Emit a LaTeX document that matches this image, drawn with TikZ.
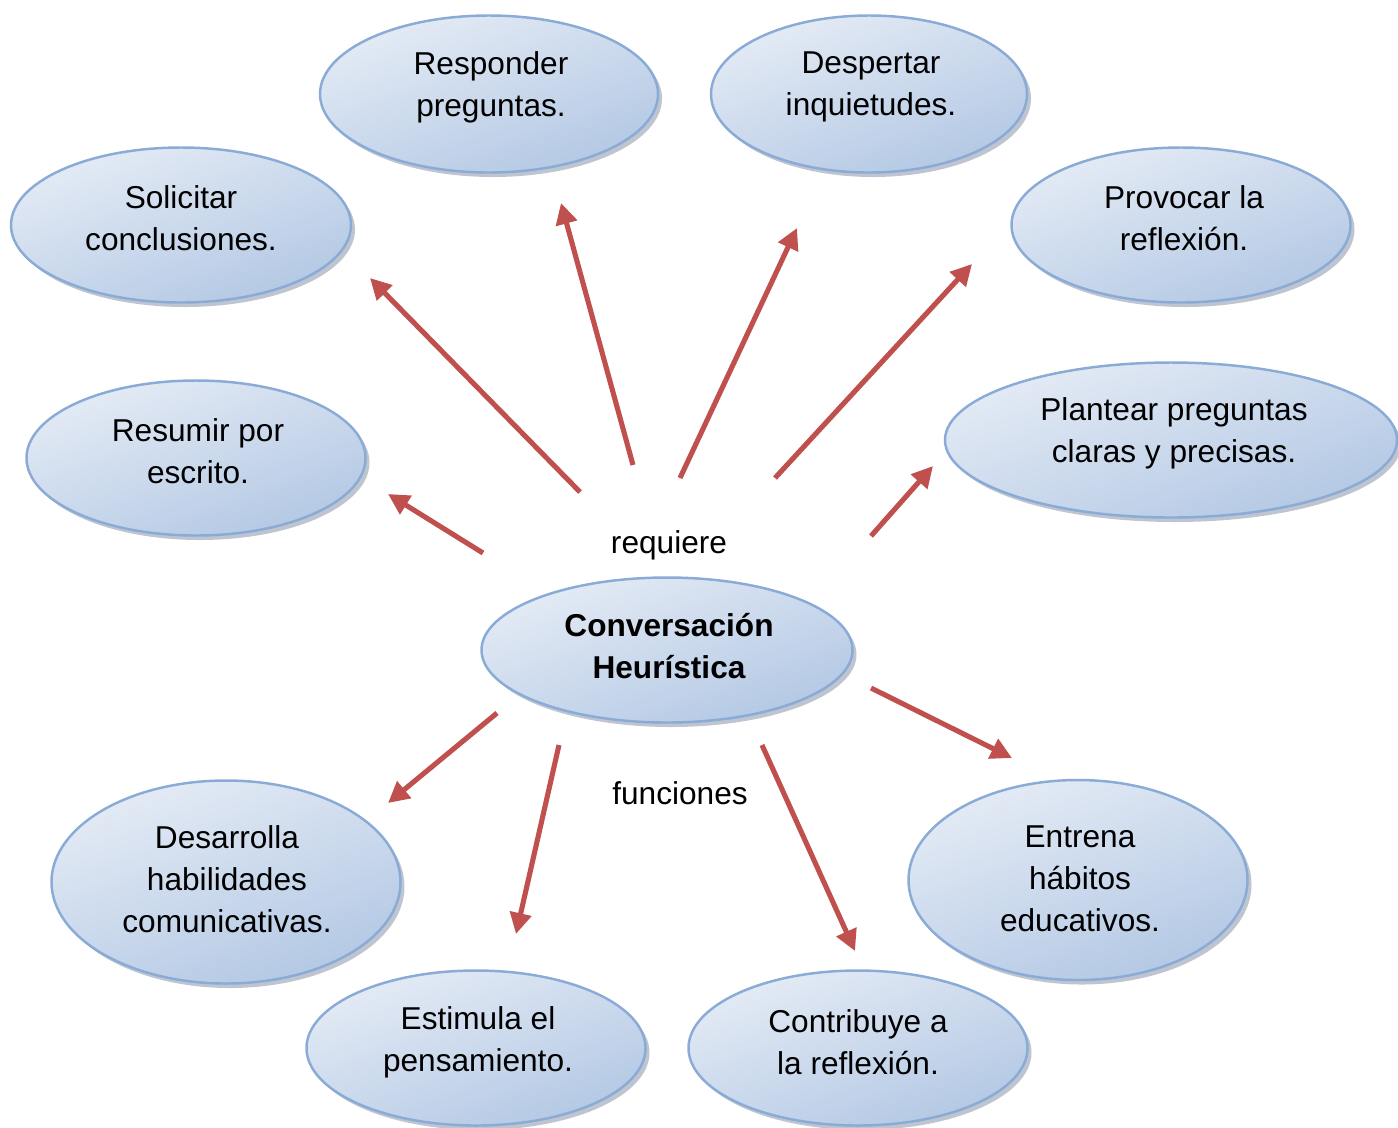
\documentclass[tikz,border=0pt]{standalone}
\usepackage{fontspec}
\setmainfont{Liberation Sans}
\usetikzlibrary{shapes.geometric,arrows.meta,shadows}
\definecolor{arrowred}{HTML}{C0504D}
\definecolor{bubline}{HTML}{8AABD6}
\definecolor{bubtop}{HTML}{E4EBF5}
\definecolor{bubbot}{HTML}{B3C8E4}
\definecolor{bubshadow}{HTML}{6F7F96}
\begin{document}
\begin{tikzpicture}[x=0.02cm,y=-0.02cm,
  bub/.style 2 args={ellipse, draw=bubline, line width=1.4pt,
     top color=bubtop, bottom color=bubbot, shading angle=20,
     minimum width={#1*0.02cm}, minimum height={#2*0.02cm}, inner sep=0pt,
     drop shadow={shadow xshift=0.08cm, shadow yshift=-0.09cm, fill=bubshadow, opacity=0.45}},
  txt/.style={align=center, font=\fontsize{18}{24}\selectfont, inner sep=0pt},
  arr/.style={draw=arrowred, line width=2.9pt, -{Triangle[length=12pt,width=12pt]}},
  lbl/.style={font=\fontsize{18}{24}\selectfont, inner sep=0pt}]
\useasboundingbox (0,0) rectangle (1398,1127);
\begin{scope}
\clip (0,0) rectangle (1398,1127);
% ellipses
\node[bub={338}{157}] (resp) at (489,94) {};
\node[bub={316}{157}] (desp) at (869,94) {};
\node[bub={340}{155}] (soli) at (181,225) {};
\node[bub={339}{155}] (prov) at (1181,225) {};
\node[bub={339}{155}] (resu) at (196,458) {};
\node[bub={452}{155}] (plan) at (1171,440) {};
\node[bub={371}{145}] (conv) at (667,650) {};
\node[bub={349}{203}] (desa) at (226,882) {};
\node[bub={339}{200}] (entr) at (1078,880) {};
\node[bub={339}{155}] (esti) at (476,1048) {};
\node[bub={339}{155}] (cont) at (858,1048) {};
\end{scope}
% texts
\node[txt] (resp-t) at (491,87) {Responder\\preguntas.};
\node[txt] (desp-t) at (871,87) {Despertar\\inquietudes.};
\node[txt] (soli-t) at (181,218) {Solicitar\\conclusiones.};
\node[txt] (prov-t) at (1184,218) {Provocar la\\reflexión.};
\node[txt] (resu-t) at (198,451) {Resumir por\\escrito.};
\node[txt] (plan-t) at (1174,433) {Plantear preguntas\\claras y precisas.};
\node[txt, font=\fontsize{18}{24}\selectfont\bfseries] (conv-t) at (669,646) {Conversación\\Heurística};
\node[txt] (desa-t) at (227,879) {Desarrolla\\habilidades\\comunicativas.};
\node[txt] (entr-t) at (1080,879) {Entrena\\hábitos\\educativos.};
\node[txt] (esti-t) at (478,1042) {Estimula el\\pensamiento.};
\node[txt] (cont-t) at (858,1042) {Contribuye a\\la reflexión.};
% labels
\node[lbl] (req) at (669,545) {requiere};
\node[lbl] (fun) at (680,793) {funciones};
% arrow end points
\coordinate (s1) at (483,553); \coordinate (e1) at (388,494);
\coordinate (s2) at (580,492); \coordinate (e2) at (370,278);
\coordinate (s3) at (633,465); \coordinate (e3) at (561,203);
\coordinate (s4) at (680,478); \coordinate (e4) at (797,228);
\coordinate (s5) at (775,478); \coordinate (e5) at (972,264);
\coordinate (s6) at (871,536); \coordinate (e6) at (933,466);
\coordinate (s7) at (871,688); \coordinate (e7) at (1012,758);
\coordinate (s8) at (497,713); \coordinate (e8) at (388,803);
\coordinate (s9) at (559,745); \coordinate (e9) at (516,934);
\coordinate (s10) at (762,745); \coordinate (e10) at (855,951);
\foreach \i in {1,...,10} {\draw[arr] (s\i) -- (e\i);}
\end{tikzpicture}
\end{document}
